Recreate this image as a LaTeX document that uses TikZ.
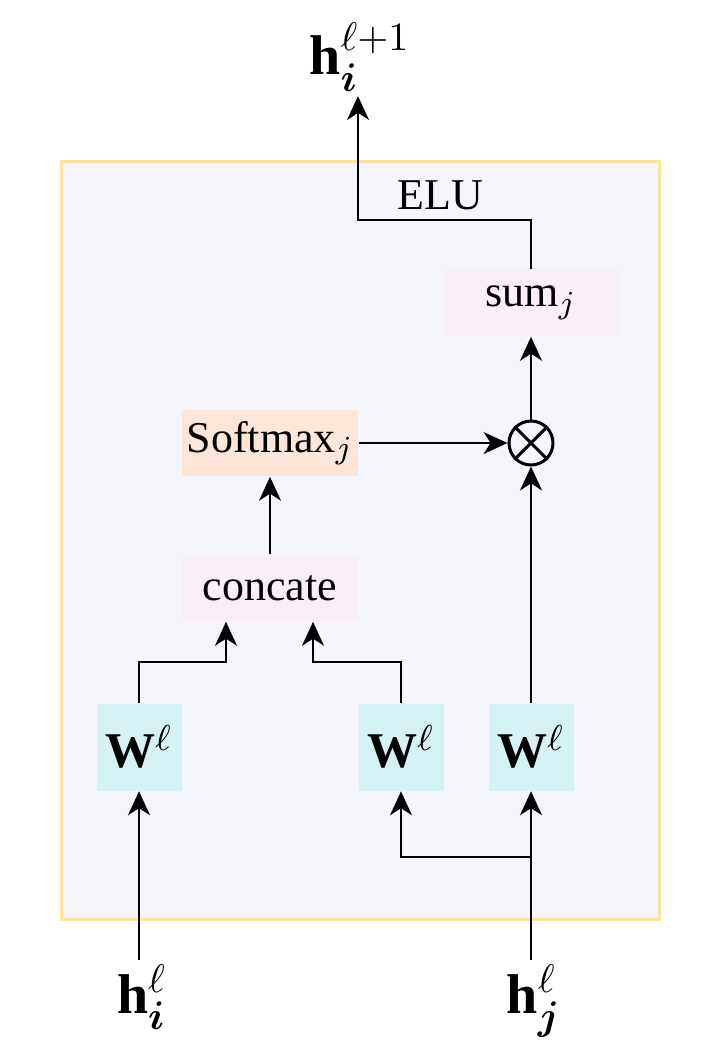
\documentclass[tikz,border=0pt]{standalone}
\usepackage{amsmath,bm}
\usepackage{fontspec}
\setmainfont{Liberation Serif}
\usetikzlibrary{arrows.meta,calc}
\definecolor{panelfill}{HTML}{F5F6FB}
\definecolor{panelline}{HTML}{FDE49A}
\definecolor{peach}{HTML}{FDE6D8}
\definecolor{lightpink}{HTML}{FAEEF8}
\definecolor{lightcyan}{HTML}{D4F1F3}
\tikzset{
  opbox/.style={inner sep=0pt,minimum width=44pt,minimum height=16.5pt,font=\fontsize{11}{13}\selectfont},
  wbox/.style={fill=lightcyan,inner sep=0pt,minimum width=21.25pt,minimum height=21.75pt,font=\fontsize{12.5}{15}\selectfont},
  hlabel/.style={inner sep=1pt,font=\fontsize{14}{16}\selectfont},
  wire/.style={line width=0.5pt},
  arr/.style={line width=0.5pt,-{Stealth[length=6pt,width=5.5pt,inset=1.8pt]}},
}
\begin{document}
\begin{tikzpicture}[x=0.25pt,y=-0.25pt]
\useasboundingbox (0,0) rectangle (720,1050);
\draw[fill=panelfill,draw=panelline,line width=0.75pt] (61,161) rectangle (659,919);

\node[opbox,fill=lightpink] (sum) at (531,303) {sum$_j$};
\node[opbox,fill=peach] (soft) at (270,443) {Softmax$_j$};
\node[opbox,fill=lightpink] (concate) at (270,588) {concate};
\node[circle,draw,line width=0.75pt,minimum size=11pt,inner sep=0pt] (mul) at (531,443) {};
\draw[line width=0.75pt] (mul.north west) -- (mul.south east) (mul.north east) -- (mul.south west);

\node[wbox] (wl) at (139,747) {\textbf{W}$^{\ell}$};
\node[wbox] (wm) at (401,747) {\textbf{W}$^{\ell}$};
\node[wbox] (wr) at (531,747) {\textbf{W}$^{\ell}$};

\node[hlabel,anchor=south] (out) at (360,96) {\textbf{h}$^{\ell+1}_{\bm{i}}$};
\node[hlabel,anchor=north] (hi) at (142,960) {\textbf{h}$^{\ell}_{\bm{i}}$};
\node[hlabel,anchor=north] (hj) at (534,960) {\textbf{h}$^{\ell}_{\bm{j}}$};
\node[font=\fontsize{11}{13}\selectfont] (elu) at (440,195) {ELU};

\coordinate (elbow) at (358,220);
\coordinate (split) at (531,857);
\coordinate (cin1) at ($(concate.south)+(-44,0)$);
\coordinate (cin2) at ($(concate.south)+(43,0)$);

\draw[arr] (sum.north) |- (elbow) -- (out.south -| elbow);
\draw[arr] (mul.north) -- (sum.south);
\draw[arr] (soft.east) -- (mul.west);
\draw[arr] (concate.north) -- (soft.south);
\draw[arr] (wl.north) -- ++(0,-41) -| (cin1);
\draw[arr] (wm.north) -- ++(0,-41) -| (cin2);
\draw[arr] (wr.north) -- (mul.south);
\draw[arr] (hi.north -| wl) -- (wl.south);
\draw[arr] (hj.north -| wr) -- (wr.south);
\draw[arr] (split) -| (wm.south);
\end{tikzpicture}
\end{document}
